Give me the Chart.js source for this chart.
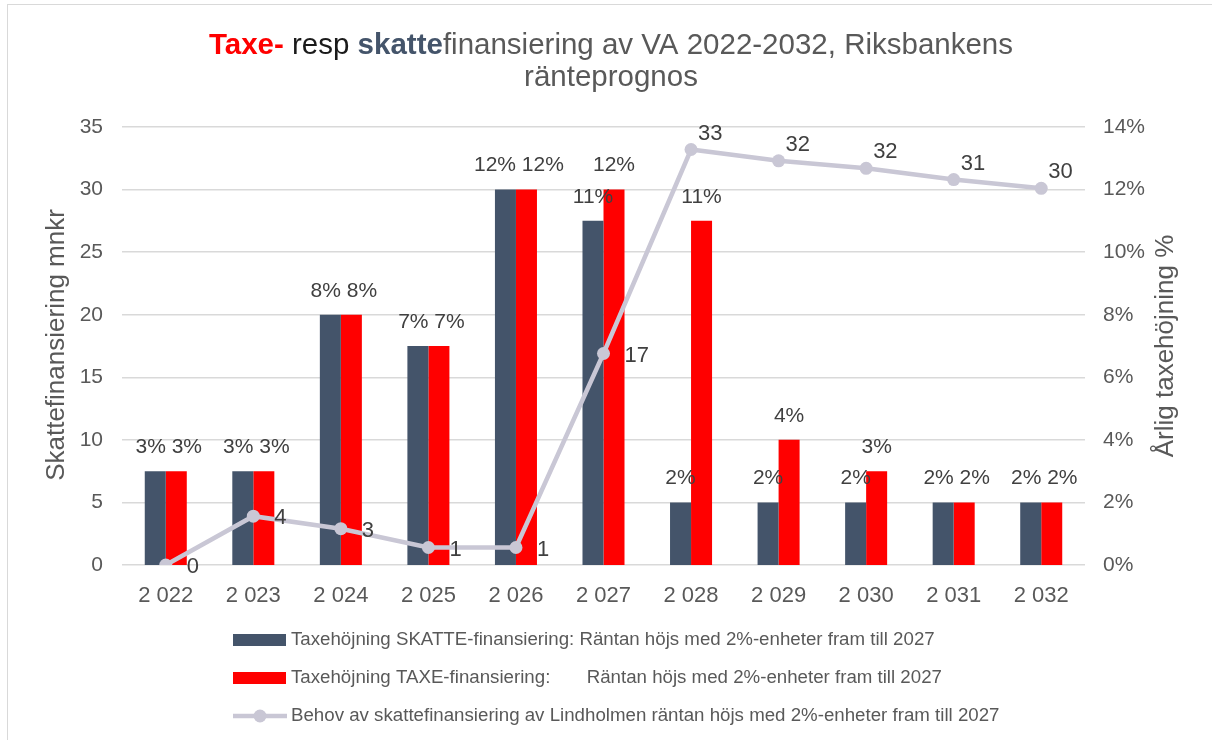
<!DOCTYPE html>
<html lang="sv">
<head>
<meta charset="utf-8">
<title>Taxe- resp skattefinansiering av VA 2022-2032</title>
<script src="https://cdn.jsdelivr.net/npm/chart.js@4.4.0/dist/chart.umd.min.js"></script>
<style>
  html, body { margin: 0; padding: 0; background: #fff; }
  #ram { width: 1212px; height: 740px; }
</style>
</head>
<body>
<div id="ram"><canvas id="vaDiagram" width="1212" height="740"></canvas></div>
<script>
// --- data ---
const ar = ["2 022", "2 023", "2 024", "2 025", "2 026", "2 027", "2 028", "2 029", "2 030", "2 031", "2 032"];
const skatteHojning = [3, 3, 8, 7, 12, 11, 2, 2, 2, 2, 2];      // %
const taxeHojning = [3, 3, 8, 7, 12, 12, 11, 4, 3, 2, 2];        // %
const behovSkatt = [0, 3.9, 2.9, 1.4, 1.4, 16.9, 33.2, 32.3, 31.7, 30.8, 30.1]; // mnkr

const legendTexter = [
  "Taxehöjning SKATTE-finansiering: Räntan höjs med 2%-enheter fram till 2027",
  "Taxehöjning TAXE-finansiering:       Räntan höjs med 2%-enheter fram till 2027",
  "Behov av skattefinansiering av Lindholmen räntan höjs med 2%-enheter fram till 2027",
];

const FONT = "'Liberation Sans', Arial, sans-serif";
const GRA = "#595959";
const MORK = "#44546A";
const ROD = "#FF0000";
const LINJE = "#C9C7D5";

Chart.defaults.font.family = FONT;

// ram runt diagrammet
const ramPlugin = {
  id: "ram",
  beforeDraw(chart) {
    const ctx = chart.ctx;
    ctx.save();
    ctx.strokeStyle = "#D9D9D9";
    ctx.lineWidth = 1;
    ctx.strokeRect(7.5, 4.5, 1400, 1000);
    ctx.restore();
  },
};

// rubrik, axeltitlar och legend
const texter = {
  id: "texter",
  afterDraw(chart) {
    const ctx = chart.ctx;
    ctx.save();
    ctx.textBaseline = "middle";

    // rubrik rad 1 med blandade stilar
    let delar = [
      { t: "Taxe-", c: ROD, b: true },
      { t: " resp ", c: "#1a1a1a", b: false },
      { t: "skatte", c: MORK, b: true },
      { t: "finansiering av VA 2022-2032, Riksbankens", c: GRA, b: false },
    ];
    let bredd = 0;
    delar.forEach((d) => {
      ctx.font = (d.b ? "bold " : "") + "29.5px " + FONT;
      d.w = ctx.measureText(d.t).width;
      bredd += d.w;
    });
    let x = 611 - bredd / 2;
    ctx.textAlign = "left";
    delar.forEach((d) => {
      ctx.font = (d.b ? "bold " : "") + "29.5px " + FONT;
      ctx.fillStyle = d.c;
      ctx.fillText(d.t, x, 46);
      x += d.w;
    });
    ctx.font = "29.5px " + FONT;
    ctx.fillStyle = GRA;
    ctx.textAlign = "center";
    ctx.fillText("ränteprognos", 611, 78);

    // axeltitlar
    ctx.font = "26px " + FONT;
    ctx.save();
    ctx.translate(57, 345);
    ctx.rotate(-Math.PI / 2);
    ctx.fillText("Skattefinansiering mnkr", 0, 0);
    ctx.restore();
    ctx.save();
    ctx.translate(1166, 346);
    ctx.rotate(-Math.PI / 2);
    ctx.fillText("Årlig taxehöjning %", 0, 0);
    ctx.restore();

    // legend
    let rader = [640, 678, 716];
    ctx.font = "18.7px " + FONT;
    ctx.textAlign = "left";
    rader.forEach((y, i) => {
      if (i < 2) {
        ctx.fillStyle = i === 0 ? MORK : ROD;
        ctx.fillRect(233, y - 6, 53, 12);
      } else {
        ctx.strokeStyle = LINJE;
        ctx.lineWidth = 4.5;
        ctx.beginPath();
        ctx.moveTo(233, y);
        ctx.lineTo(287, y);
        ctx.stroke();
        ctx.fillStyle = LINJE;
        ctx.beginPath();
        ctx.arc(260, y, 6.5, 0, Math.PI * 2);
        ctx.fill();
      }
      ctx.fillStyle = GRA;
      ctx.fillText(legendTexter[i], 291, y);
    });
    ctx.restore();
  },
};

// dataetiketter
const etiketter = {
  id: "etiketter",
  afterDatasetsDraw(chart) {
    const ctx = chart.ctx;
    const punkter = chart.getDatasetMeta(0).data;
    const morka = chart.getDatasetMeta(1).data;
    const roda = chart.getDatasetMeta(2).data;
    ctx.save();
    ctx.fillStyle = "#404040";
    ctx.textBaseline = "middle";
    ctx.font = "21px " + FONT;

    morka.forEach((stapel, i) => {
      const rod = roda[i];
      const t1 = skatteHojning[i] + "%";
      const t2 = taxeHojning[i] + "%";
      if (Math.abs(stapel.y - rod.y) < 22) {
        // lika höga staplar: etiketterna bredvid varandra
        const y = Math.min(stapel.y, rod.y) - 24;
        const w1 = ctx.measureText(t1).width;
        const w2 = ctx.measureText(t2).width;
        const sp = ctx.measureText(" ").width;
        const mitt = (stapel.x + rod.x) / 2 + 3;
        const start = mitt - (w1 + sp + w2) / 2;
        ctx.textAlign = "left";
        ctx.fillText(t1, start, y);
        ctx.fillText(t2, start + w1 + sp, y);
      } else {
        ctx.textAlign = "center";
        ctx.fillText(t1, stapel.x, stapel.y - 24);
        ctx.fillText(t2, rod.x, rod.y - 24);
      }
    });

    ctx.font = "22px " + FONT;
    ctx.textAlign = "left";
    punkter.forEach((p, i) => {
      const txt = String(Math.round(behovSkatt[i]));
      if (i < 6) {
        ctx.fillText(txt, p.x + 21, p.y + 2);
      } else {
        ctx.fillText(txt, p.x + 7, p.y - 16);
      }
    });
    ctx.restore();
  },
};

let datos = {
  labels: ar,
  datasets: [
    {
      type: "line",
      label: legendTexter[2],
      data: behovSkatt,
      yAxisID: "mnkr",
      borderColor: LINJE,
      backgroundColor: LINJE,
      borderWidth: 4.5,
      pointRadius: 6.5,
      pointBorderWidth: 0,
      pointBackgroundColor: LINJE,
      tension: 0,
      order: 0,
    },
    {
      type: "bar",
      label: legendTexter[0],
      data: skatteHojning,
      yAxisID: "procent",
      backgroundColor: MORK,
      categoryPercentage: 0.48,
      barPercentage: 1,
      order: 1,
    },
    {
      type: "bar",
      label: legendTexter[1],
      data: taxeHojning,
      yAxisID: "procent",
      backgroundColor: ROD,
      categoryPercentage: 0.48,
      barPercentage: 1,
      order: 2,
    },
  ],
};

let config = {
  type: "bar",
  data: datos,
  plugins: [ramPlugin, etiketter, texter],
  options: {
    responsive: false,
    animation: false,
    devicePixelRatio: 1,
    layout: { padding: { top: 127, left: 0, right: 0, bottom: 0 } },
    plugins: {
      legend: { display: false },
      title: { display: false },
      tooltip: { enabled: false },
    },
    scales: {
      x: {
        grid: { display: false },
        border: { display: false },
        ticks: { color: GRA, font: { size: 22 }, padding: 10 },
        afterFit: (s) => { s.height = 175; },
      },
      mnkr: {
        position: "left",
        min: 0,
        max: 35,
        ticks: { stepSize: 5, color: GRA, font: { size: 21 }, padding: 19 },
        grid: { color: "#D9D9D9", lineWidth: 1.5, drawTicks: false },
        border: { display: false },
        afterFit: (s) => { s.width = 122; },
      },
      procent: {
        position: "right",
        min: 0,
        max: 14,
        ticks: {
          stepSize: 2,
          color: GRA,
          font: { size: 21 },
          padding: 18,
          callback: (v) => v + "%",
        },
        grid: { display: false, drawTicks: false },
        border: { display: false },
        afterFit: (s) => { s.width = 127; },
      },
    },
  },
};

new Chart(document.getElementById("vaDiagram"), config);
</script>
</body>
</html>
